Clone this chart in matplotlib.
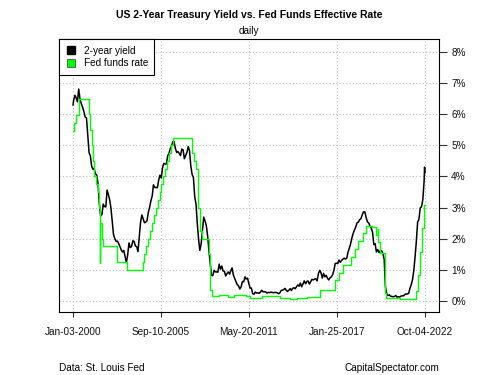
"""
US 2-year Treasury yield vs. effective fed funds rate (daily), 2000-2022.
"""

import matplotlib

matplotlib.use("Agg")
import matplotlib.pyplot as plt
import pandas as pd
from matplotlib.lines import Line2D

plt.rcParams["font.family"] = ["Liberation Sans", "DejaVu Sans"]

FONT = 7.2
BLACK_LINE = "#000000"
GREEN_LINE = "#00ff00"

# --- 2-year Treasury yield, monthly readings (%), Jan-2000 .. Sep-2022 ---
yield_2000 = [6.44, 6.61, 6.53, 6.40, 6.81, 6.48, 6.34, 6.23, 6.08, 5.91, 5.88, 5.35]
yield_2001 = [4.76, 4.66, 4.34, 4.23, 4.26, 4.08, 4.04, 3.76, 3.12, 2.73, 2.78, 3.11]
yield_2002 = [3.03, 3.02, 3.56, 3.42, 3.26, 2.99, 2.56, 2.13, 2.00, 1.91, 1.92, 1.84]
yield_2003 = [1.74, 1.63, 1.57, 1.62, 1.42, 1.23, 1.47, 1.86, 1.71, 1.75, 1.93, 1.91]
yield_2004 = [1.76, 1.74, 1.58, 2.07, 2.53, 2.76, 2.64, 2.51, 2.53, 2.58, 2.85, 3.01]
yield_2005 = [3.22, 3.38, 3.73, 3.65, 3.64, 3.64, 3.87, 4.04, 3.95, 4.27, 4.42, 4.40]
yield_2006 = [4.40, 4.67, 4.73, 4.89, 4.97, 5.12, 5.12, 4.90, 4.77, 4.80, 4.74, 4.67]
yield_2007 = [4.88, 4.85, 4.57, 4.67, 4.77, 4.96, 4.82, 4.34, 4.06, 3.97, 3.34, 3.12]
yield_2008 = [2.48, 1.97, 1.62, 1.83, 2.26, 2.69, 2.57, 2.42, 2.08, 1.61, 1.21, 0.82]
yield_2009 = [0.81, 0.98, 0.93, 0.93, 0.92, 1.18, 1.02, 1.12, 0.96, 0.95, 0.80, 0.87]
yield_2010 = [0.93, 0.86, 0.96, 1.06, 0.83, 0.72, 0.62, 0.52, 0.48, 0.38, 0.45, 0.62]
yield_2011 = [0.61, 0.77, 0.70, 0.73, 0.56, 0.41, 0.41, 0.23, 0.21, 0.28, 0.25, 0.26]
yield_2012 = [0.24, 0.28, 0.34, 0.29, 0.29, 0.29, 0.25, 0.27, 0.26, 0.28, 0.27, 0.26]
yield_2013 = [0.27, 0.27, 0.26, 0.23, 0.25, 0.33, 0.34, 0.36, 0.40, 0.34, 0.30, 0.34]
yield_2014 = [0.39, 0.33, 0.40, 0.42, 0.39, 0.45, 0.51, 0.47, 0.57, 0.45, 0.54, 0.64]
yield_2015 = [0.55, 0.62, 0.64, 0.54, 0.61, 0.69, 0.67, 0.70, 0.71, 0.64, 0.88, 0.98]
yield_2016 = [0.90, 0.73, 0.88, 0.77, 0.82, 0.73, 0.67, 0.74, 0.77, 0.84, 0.98, 1.20]
yield_2017 = [1.21, 1.20, 1.31, 1.24, 1.30, 1.34, 1.37, 1.34, 1.38, 1.57, 1.70, 1.84]
yield_2018 = [2.03, 2.18, 2.28, 2.38, 2.51, 2.53, 2.61, 2.64, 2.77, 2.86, 2.86, 2.68]
yield_2019 = [2.54, 2.50, 2.41, 2.34, 2.21, 1.81, 1.84, 1.57, 1.65, 1.55, 1.61, 1.61]
yield_2020 = [1.52, 1.33, 0.45, 0.22, 0.17, 0.19, 0.15, 0.14, 0.13, 0.14, 0.17, 0.12]
yield_2021 = [0.13, 0.12, 0.15, 0.16, 0.16, 0.20, 0.22, 0.22, 0.24, 0.40, 0.52, 0.68]
yield_2022 = [0.98, 1.44, 1.91, 2.54, 2.61, 2.99, 3.02, 3.25, 3.86]

# first and last daily readings around the monthly series
yield_start = ("2000-01-03", 6.30)
yield_tail_dates = ["2022-09-26", "2022-10-04"]
yield_tail_values = [4.30, 4.12]

# --- effective fed funds rate (%), value in force from each date ---
ff_dates = [
    "2000-01-03", "2000-02-03", "2000-03-22", "2000-05-17", "2001-01-04",
    "2001-02-01", "2001-03-21", "2001-04-19", "2001-05-16", "2001-06-28",
    "2001-08-22", "2001-09-18", "2001-09-19", "2001-09-20", "2001-10-03",
    "2001-11-07", "2001-12-12", "2002-11-07", "2003-06-26", "2004-07-01",
    "2004-08-11", "2004-09-22", "2004-11-11", "2004-12-15", "2005-02-03",
    "2005-03-23", "2005-05-04", "2005-07-01", "2005-08-10", "2005-09-21",
    "2005-11-02", "2005-12-14", "2006-02-01", "2006-03-29", "2006-05-11",
    "2006-06-30", "2007-09-19", "2007-11-01", "2007-12-12", "2008-01-23",
    "2008-01-31", "2008-03-19", "2008-05-01", "2008-10-09", "2008-10-30",
    "2008-11-15", "2008-12-17", "2009-06-01", "2010-01-01", "2010-06-01",
    "2011-03-01", "2011-06-15", "2012-01-01", "2012-04-01", "2013-06-01",
    "2014-01-01", "2014-07-01", "2015-03-01", "2015-12-17", "2016-12-15",
    "2017-03-16", "2017-06-15", "2017-12-14", "2018-03-22", "2018-06-14",
    "2018-09-27", "2018-12-20", "2019-05-02", "2019-08-01", "2019-09-17",
    "2019-09-18", "2019-10-31", "2020-03-04", "2020-03-16", "2020-03-20",
    "2020-06-01", "2021-03-01", "2022-03-17", "2022-05-05", "2022-06-16",
    "2022-07-28", "2022-09-22", "2022-10-04",
]
ff_values = [
    5.45, 5.73, 5.98, 6.50, 6.00,
    5.50, 5.00, 4.50, 4.00, 3.75,
    3.50, 3.00, 1.20, 2.60, 2.50,
    2.00, 1.75, 1.25, 1.00, 1.25,
    1.50, 1.75, 2.00, 2.25, 2.50,
    2.75, 3.00, 3.25, 3.50, 3.75,
    4.00, 4.25, 4.50, 4.75, 5.00,
    5.25, 4.75, 4.50, 4.25, 3.50,
    3.00, 2.25, 2.00, 1.50, 0.75,
    0.35, 0.15, 0.20, 0.12, 0.19,
    0.14, 0.08, 0.10, 0.15, 0.10,
    0.07, 0.09, 0.12, 0.36, 0.66,
    0.91, 1.16, 1.42, 1.68, 1.91,
    2.18, 2.40, 2.38, 2.13, 2.30,
    1.90, 1.55, 1.10, 0.25, 0.10,
    0.08, 0.07, 0.33, 0.83, 1.58,
    2.33, 3.08, 3.08,
]

x_tick_dates = ["2000-01-03", "2005-09-10", "2011-05-20", "2017-01-25", "2022-10-04"]
y_ticks = [0, 1, 2, 3, 4, 5, 6, 7, 8]


def build_yield_series():
    monthly = (
        yield_2000 + yield_2001 + yield_2002 + yield_2003 + yield_2004
        + yield_2005 + yield_2006 + yield_2007 + yield_2008 + yield_2009
        + yield_2010 + yield_2011 + yield_2012 + yield_2013 + yield_2014
        + yield_2015 + yield_2016 + yield_2017 + yield_2018 + yield_2019
        + yield_2020 + yield_2021 + yield_2022
    )
    months = pd.date_range("2000-01-01", periods=len(monthly), freq="MS")
    dates = (
        [pd.Timestamp(yield_start[0])]
        + list(months + pd.Timedelta(days=14))
        + list(pd.to_datetime(yield_tail_dates))
    )
    values = [yield_start[1]] + monthly + yield_tail_values
    return pd.Series(values, index=pd.DatetimeIndex(dates))


def main():
    two_year = build_yield_series()
    fed_funds = pd.Series(ff_values, index=pd.to_datetime(ff_dates))

    fig = plt.figure(figsize=(5, 3.75), dpi=100)
    ax = fig.add_axes([0.118, 0.168, 0.76, 0.728])

    ax.plot(two_year.index, two_year.values, color=BLACK_LINE, lw=1.1, zorder=3)
    ax.plot(fed_funds.index, fed_funds.values, color=GREEN_LINE, lw=1.0,
            drawstyle="steps-post", zorder=4)

    # xts-style padding: 4% of the date span on each side
    start, end = pd.Timestamp("2000-01-03"), pd.Timestamp("2022-10-04")
    pad = (end - start) * 0.04
    ax.set_xlim(start - pad, end + pad)
    ax.set_ylim(-0.36, 8.42)

    xt = pd.to_datetime(x_tick_dates)
    ax.set_xticks(xt)
    ax.set_xticklabels([d.strftime("%b-%d-%Y") for d in xt], fontsize=FONT)
    ax.set_yticks(y_ticks)
    ax.set_yticklabels([f"{v}%" for v in y_ticks], fontsize=FONT)
    ax.yaxis.tick_right()

    ax.tick_params(axis="x", direction="out", length=3.6, width=0.8,
                   color="#333333", pad=7, labelcolor="#111111")
    ax.tick_params(axis="y", direction="out", length=5.8, width=0.8,
                   color="#333333", pad=3, labelcolor="#111111")

    ax.grid(True, color="#bbbbbb", linestyle=(0, (1, 2)), linewidth=0.8)
    ax.set_axisbelow(True)
    for spine in ax.spines.values():
        spine.set_color("#000000")
        spine.set_linewidth(0.8)

    handles = [
        Line2D([], [], marker="s", linestyle="none", markersize=5.5,
               markerfacecolor="#000000", markeredgecolor="#000000"),
        Line2D([], [], marker="s", linestyle="none", markersize=5.5,
               markerfacecolor=GREEN_LINE, markeredgecolor="#333333",
               markeredgewidth=0.5),
    ]
    leg = ax.legend(handles, ["2-year yield", "Fed funds rate"], loc="upper left",
                    bbox_to_anchor=(0, 1), borderaxespad=0, fontsize=FONT,
                    fancybox=False, framealpha=1, edgecolor="#000000",
                    handlelength=1.0, handletextpad=0.8, borderpad=0.65,
                    labelspacing=0.3)
    leg.get_frame().set_linewidth(0.8)
    leg.set_zorder(10)

    fig.text(0.498, 0.959, "US 2-Year Treasury Yield vs. Fed Funds Effective Rate",
             ha="center", va="center", fontsize=7.5, fontweight="bold")
    fig.text(0.498, 0.918, "daily", ha="center", va="center", fontsize=FONT)
    fig.text(0.118, 0.0195, "Data: St. Louis Fed", ha="left", va="center",
             fontsize=FONT)
    fig.text(0.878, 0.0195, "CapitalSpectator.com", ha="right", va="center",
             fontsize=FONT)

    fig.savefig("out.png", dpi=100)
    plt.close(fig)


if __name__ == "__main__":
    main()
